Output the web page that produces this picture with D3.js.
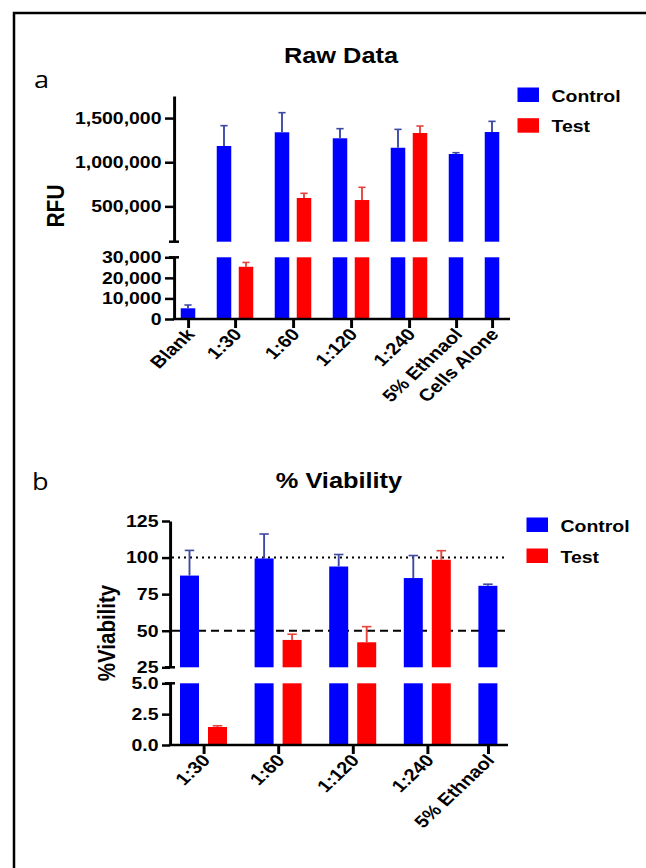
<!DOCTYPE html>
<html>
<head>
<meta charset="utf-8">
<script src="https://cdn.jsdelivr.net/npm/d3@7"></script>
<style>
  html, body { margin: 0; padding: 0; background: #fff; }
  svg { display: block; }
</style>
</head>
<body>
<script>
// ---------------- DATA ----------------
const rawCategories = ["Blank", "1:30", "1:60", "1:120", "1:240", "5% Ethnaol", "Cells Alone"];
const rawControl    = [5200, 1184000, 1339000, 1271000, 1164000, 1093000, 1342000];
const rawControlErr = [1600, 230000, 222000, 109000, 208000, 15000, 121000];
const rawTest       = [null, 25400, 595000, 572000, 1331000, null, null];
const rawTestErr    = [null, 2100, 53000, 144000, 79000, null, null];
const rawTicksUpper = [500000, 1000000, 1500000];
const rawTicksLower = [0, 10000, 20000, 30000];

const viaCategories = ["1:30", "1:60", "1:120", "1:240", "5% Ethnaol"];
const viaControl    = [87.7, 99.4, 93.9, 86.0, 80.7];
const viaControlErr = [17.2, 16.7, 8.2, 15.4, 1.1];
const viaTest       = [1.46, 43.7, 42.1, 98.5, null];
const viaTestErr    = [0.1, 3.9, 10.7, 6.2, null];
const viaTicksUpper = [25, 50, 75, 100, 125];
const viaTicksLower = [0, 2.5, 5];
const viaRefDotted  = 100;
const viaRefDashed  = 50;

const seriesNames = ["Control", "Test"];

// ---------------- STYLE / LAYOUT ----------------
const SX = 1.18;                 // horizontal stretch of the original figure
const X = v => v / SX;           // page x -> inner x
const FONT = "'Liberation Sans', Arial, Helvetica, sans-serif";
const colors = { Control: "#0000ff", Test: "#ff0000" };
const errColors = { Control: "#3d4aa3", Test: "#e5443c" };
const AXW = 2.5;

const svg = d3.select("body").append("svg").attr("width", 646).attr("height", 868);
svg.append("rect").attr("x", 14).attr("y", 13).attr("width", 700).attr("height", 900)
  .attr("fill", "none").attr("stroke", "#000").attr("stroke-width", 2.5);
const root = svg.append("g").attr("transform", `scale(${SX},1)`);

function layout(cats, ctrl, ctrlErr, test, testErr, outerRatio) {
  const bars = [], groups = [];
  let u = 0;
  cats.forEach((c, i) => {
    if (i > 0) u += outerRatio;
    const members = [];
    [["Control", ctrl, ctrlErr], ["Test", test, testErr]].forEach(([s, arr, err]) => {
      if (arr[i] != null) {
        if (members.length) u += 1;
        members.push(u);
        bars.push({ cat: c, series: s, value: arr[i], err: err[i], u });
      }
    });
    groups.push({ cat: c, u: d3.mean(members) });
  });
  return { bars, groups };
}

function styleAxis(g, fs) {
  g.attr("font-size", null).attr("font-family", null);
  g.select(".domain").attr("stroke-width", AXW);
  g.selectAll(".tick line").attr("stroke-width", AXW);
  g.selectAll("text").attr("font-family", FONT).attr("font-weight", "bold")
    .attr("font-size", fs).attr("fill", "#000");
}

function drawPanel(cfg) {
  const { bars, groups } = layout(cfg.cats, cfg.ctrl, cfg.ctrlErr, cfg.test, cfg.testErr, cfg.outerRatio);
  const x = d3.scaleLinear().domain([0, 1]).range([X(cfg.firstCenter), X(cfg.firstCenter + cfg.unitPx)]);
  const barW = X(cfg.barW);
  const segs = cfg.segments.map(s => ({
    min: s.domain[0], max: s.domain[1],
    y: d3.scaleLinear().domain(s.domain).range(s.range), ticks: s.ticks, fmt: s.fmt
  }));
  const g = root.append("g");
  const ax = X(cfg.axisX);

  // reference lines (behind bars)
  (cfg.refs || []).forEach(r => {
    const s = segs.find(sg => r.value >= sg.min && r.value <= sg.max);
    g.append("line").attr("x1", X(cfg.axisX + 2)).attr("x2", X(cfg.axisEnd))
      .attr("y1", s.y(r.value)).attr("y2", s.y(r.value))
      .attr("stroke", "#000").attr("stroke-width", 2)
      .attr("stroke-dasharray", r.dash);
  });

  // bars
  segs.forEach(s => {
    g.append("g").selectAll("rect").data(bars.filter(b => b.value > s.min)).join("rect")
      .attr("x", d => x(d.u) - barW / 2).attr("width", barW)
      .attr("y", d => s.y(Math.min(d.value, s.max)))
      .attr("height", d => s.y(s.min) - s.y(Math.min(d.value, s.max)))
      .attr("fill", d => colors[d.series]);
  });

  // error bars (upper only)
  bars.forEach(b => {
    const s = segs.find(sg => b.value >= sg.min && b.value <= sg.max);
    const y0 = s.y(b.value), y1 = s.y(b.value + b.err);
    const cx = x(b.u), cw = barW * 0.25;
    const eg = g.append("g").attr("stroke", errColors[b.series]).attr("stroke-width", 1.6);
    eg.append("line").attr("x1", cx).attr("x2", cx).attr("y1", y0).attr("y2", y1);
    eg.append("line").attr("x1", cx - cw).attr("x2", cx + cw).attr("y1", y1).attr("y2", y1);
  });

  // y axes
  segs.forEach((s, i) => {
    const a = g.append("g").attr("transform", `translate(${ax},0)`)
      .call(d3.axisLeft(s.y).tickValues(s.ticks).tickFormat(s.fmt)
        .tickSize(X(cfg.tickLen)).tickPadding(X(3.5)).tickSizeOuter(0));
    styleAxis(a, 16.5);
    // break caps
    const capY = i === 0 ? s.y(s.max) : s.y(s.min);
    g.append("line").attr("x1", X(cfg.axisX - 5)).attr("x2", X(cfg.axisX + 5))
      .attr("y1", capY).attr("y2", capY).attr("stroke", "#000").attr("stroke-width", AXW);
  });

  // x axis
  const baseY = segs[0].y(0);
  const xa = g.append("g").attr("transform", `translate(0,${baseY})`)
    .call(d3.axisBottom(x).tickValues(groups.map(d => d.u))
      .tickFormat((d, i) => groups[i].cat).tickSize(9).tickSizeOuter(0));
  styleAxis(xa, 17);
  xa.select(".domain").remove();
  xa.selectAll("text").attr("text-anchor", "end").attr("dy", null).attr("y", null)
    .attr("transform", `translate(${X(7)},${cfg.labelDy}) rotate(-48)`);
  g.append("line").attr("x1", X(cfg.axisX - 1.2)).attr("x2", X(cfg.axisEnd))
    .attr("y1", baseY).attr("y2", baseY).attr("stroke", "#000").attr("stroke-width", AXW);

  // titles
  g.append("text").attr("x", X(cfg.titleX)).attr("y", cfg.titleY).attr("text-anchor", "middle")
    .attr("font-family", FONT).attr("font-weight", "bold").attr("font-size", 21.5).text(cfg.title);
  g.append("text").attr("x", X(cfg.letterX)).attr("y", cfg.letterY)
    .attr("font-family", "'Open Sans', 'Noto Sans', sans-serif").attr("font-size", 23).text(cfg.letter);
  g.append("text").attr("transform", `translate(${X(cfg.yTitleX)},${cfg.yTitleY}) rotate(-90)`)
    .attr("text-anchor", "middle").attr("font-family", FONT).attr("font-weight", "bold")
    .attr("font-size", cfg.yTitleSize).text(cfg.yTitle);

  // legend
  const lg = g.append("g");
  seriesNames.forEach((s, i) => {
    const yy = cfg.legY + i * cfg.legStep;
    lg.append("rect").attr("x", X(cfg.legX)).attr("y", yy).attr("width", X(21.5)).attr("height", 14.5)
      .attr("fill", colors[s]);
    lg.append("text").attr("x", X(cfg.legX + 34)).attr("y", yy + 14.2)
      .attr("font-family", FONT).attr("font-weight", "bold").attr("font-size", 16.5).text(s);
  });
}

drawPanel({
  cats: rawCategories, ctrl: rawControl, ctrlErr: rawControlErr, test: rawTest, testErr: rawTestErr,
  outerRatio: 36 / 22, firstCenter: 188, unitPx: 22, barW: 14.5,
  axisX: 174, axisEnd: 510, tickLen: 9, labelDy: 16,
  segments: [
    { domain: [0, 30000], range: [319, 257.3], ticks: rawTicksLower, fmt: d3.format(",") },
    { domain: [100000, 1750000], range: [241.7, 96], ticks: rawTicksUpper, fmt: d3.format(",") }
  ],
  title: "Raw Data", titleX: 341, titleY: 63.5,
  letter: "a", letterX: 34, letterY: 88,
  yTitle: "RFU", yTitleX: 64, yTitleY: 206, yTitleSize: 21,
  legX: 517.5, legY: 87.5, legStep: 30.7
});

drawPanel({
  cats: viaCategories, ctrl: viaControl, ctrlErr: viaControlErr, test: viaTest, testErr: viaTestErr,
  outerRatio: 46.6 / 28, firstCenter: 189.5, unitPx: 28, barW: 19,
  axisX: 170, axisEnd: 508, tickLen: 8, labelDy: 16,
  segments: [
    { domain: [0, 5], range: [745, 683.3], ticks: viaTicksLower, fmt: d3.format(".1f") },
    { domain: [25, 125], range: [667.3, 521], ticks: viaTicksUpper, fmt: d3.format("d") }
  ],
  refs: [{ value: viaRefDotted, dash: `${X(2)},${X(4)}` }, { value: viaRefDashed, dash: `${X(8)},${X(5)}` }],
  title: "% Viability", titleX: 339, titleY: 488.5,
  letter: "b", letterX: 32, letterY: 490,
  yTitle: "%Viability", yTitleX: 115, yTitleY: 633, yTitleSize: 20.5,
  legX: 526.5, legY: 517.5, legStep: 31
});
</script>
</body>
</html>
